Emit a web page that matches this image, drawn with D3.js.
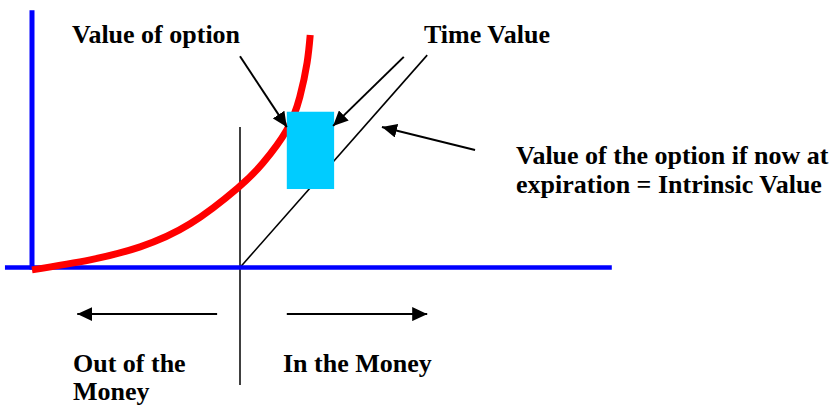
<!DOCTYPE html>
<html>
<head>
<meta charset="utf-8">
<script src="https://cdn.jsdelivr.net/npm/d3@7"></script>
<style>
  body { margin: 0; background: #fff; }
  text { font-family: "Liberation Serif", "Times New Roman", serif; font-weight: bold; font-size: 26px; fill: #000; }
</style>
</head>
<body>
<svg id="chart" width="832" height="405"></svg>
<script>
// stock price (x) and option value (y), strike at 40
const strike = 40;
const axisX = [-5.2, 111.5];
const axisYTop = 43.6;
const optionValue = [
  [0, -0.4], [11.2, 1.3], [20.8, 3.5], [30.4, 7.4], [39.6, 13.5],
  [44.4, 17.7], [49, 23.3], [51.5, 28.9], [52.9, 34.7], [53.5, 39.4]
];
const intrinsic = [[strike, 0], [76, 36]];
const timeValueBox = { s0: 49, s1: 58.1, v0: 13.3, v1: 26.4 };
const strikeLine = [23.8, -19.9];
const arrows = [
  [[40, 35.8], [49, 23.8]],
  [[71.5, 35.7], [57.9, 24.0]],
  [[85.2, 19.9], [67.3, 23.8]],
  [[35.6, -7.9], [8.7, -7.9]],
  [[49, -7.9], [76, -7.9]]
];
const labels = [
  { lines: ["Value of option"], x: 72, y: 43 },
  { lines: ["Time Value"], x: 424, y: 43 },
  { lines: ["Value of the option if now at", "expiration = Intrinsic Value"], x: 516, y: 164 },
  { lines: ["Out of the", "Money"], x: 73, y: 372 },
  { lines: ["In the Money"], x: 283, y: 372 }
];

const svg = d3.select("#chart");
const x = d3.scaleLinear().domain([0, strike]).range([32, 240]);
const y = d3.scaleLinear().domain([0, 40]).range([267.5, 31.5]);

svg.append("defs").append("marker")
    .attr("id", "head")
    .attr("markerUnits", "userSpaceOnUse")
    .attr("viewBox", "0 -7 15 14")
    .attr("markerWidth", 15).attr("markerHeight", 14)
    .attr("refX", 15).attr("refY", 0)
    .attr("orient", "auto")
  .append("path").attr("d", "M0,-7L15,0L0,7Z").attr("fill", "#000");

// strike line
svg.append("line")
    .attr("x1", x(strike)).attr("x2", x(strike))
    .attr("y1", y(strikeLine[0])).attr("y2", y(strikeLine[1]))
    .attr("stroke", "#000").attr("stroke-width", 1.5);

// intrinsic value
svg.append("line")
    .attr("x1", x(intrinsic[0][0])).attr("y1", y(intrinsic[0][1]))
    .attr("x2", x(intrinsic[1][0])).attr("y2", y(intrinsic[1][1]))
    .attr("stroke", "#000").attr("stroke-width", 1.6);

// axes
svg.append("line")
    .attr("x1", x(0)).attr("x2", x(0)).attr("y1", y(axisYTop)).attr("y2", y(0) + 2)
    .attr("stroke", "#0000ff").attr("stroke-width", 5);
svg.append("line")
    .attr("x1", x(axisX[0])).attr("x2", x(axisX[1])).attr("y1", y(0)).attr("y2", y(0))
    .attr("stroke", "#0000ff").attr("stroke-width", 4.5);

// option value curve
svg.append("path")
    .datum(optionValue)
    .attr("fill", "none").attr("stroke", "#ff0000").attr("stroke-width", 7)
    .attr("d", d3.line().x(d => x(d[0])).y(d => y(d[1])).curve(d3.curveNatural));

// time value box
svg.append("rect")
    .attr("x", x(timeValueBox.s0)).attr("y", y(timeValueBox.v1))
    .attr("width", x(timeValueBox.s1) - x(timeValueBox.s0))
    .attr("height", y(timeValueBox.v0) - y(timeValueBox.v1))
    .attr("fill", "#00ccff");

svg.selectAll(".arrow")
  .data(arrows)
  .join("line")
    .attr("class", "arrow")
    .attr("x1", d => x(d[0][0])).attr("y1", d => y(d[0][1]))
    .attr("x2", d => x(d[1][0])).attr("y2", d => y(d[1][1]))
    .attr("stroke", "#000").attr("stroke-width", 2)
    .attr("marker-end", "url(#head)");

svg.selectAll(".label")
  .data(labels)
  .join("text")
    .attr("class", "label")
    .attr("x", d => d.x).attr("y", d => d.y)
    .selectAll("tspan")
    .data(d => d.lines.map((t, i) => ({ t, i, x: d.x })))
    .join("tspan")
      .attr("x", d => d.x)
      .attr("dy", d => d.i ? (d.x < 100 ? 28 : 29) : 0)
      .text(d => d.t);
</script>
</body>
</html>
